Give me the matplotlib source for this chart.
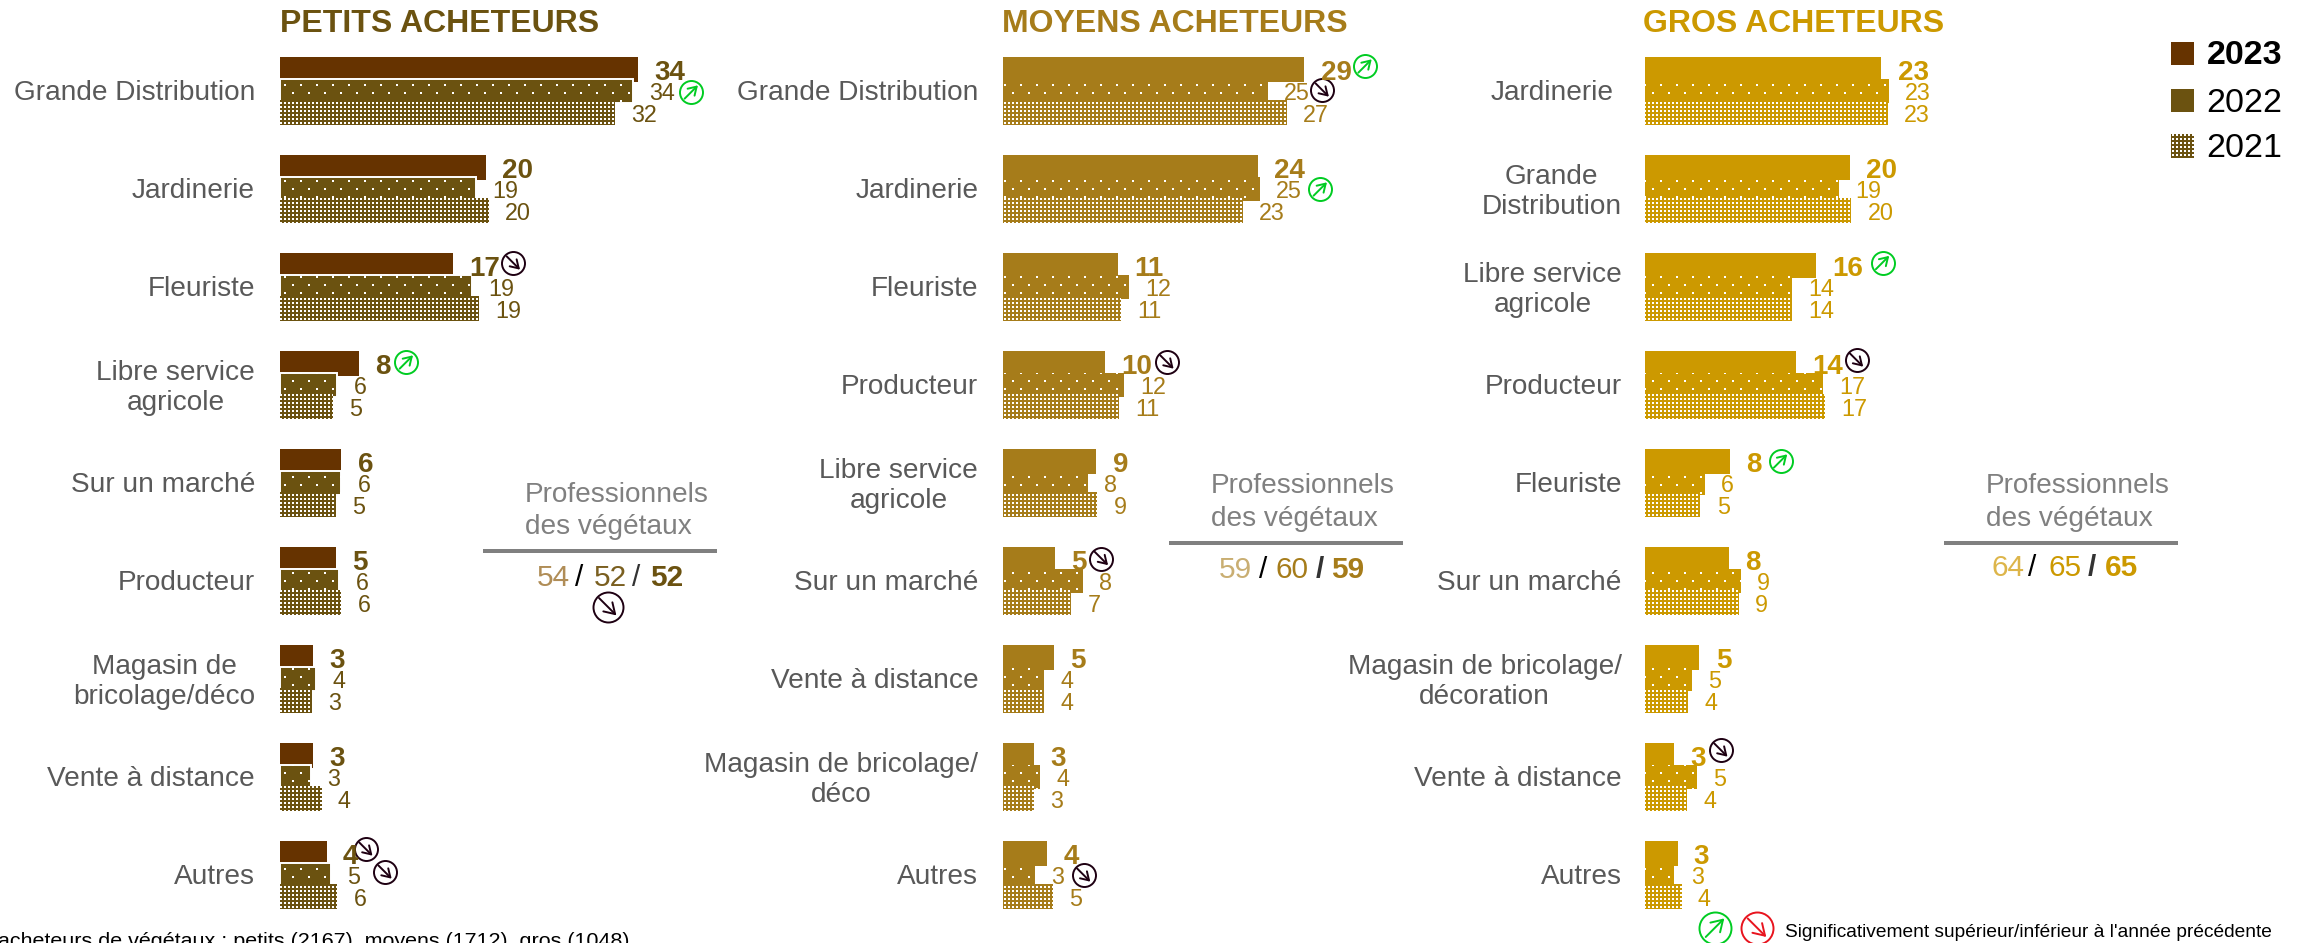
import numpy as np
import matplotlib
matplotlib.use("Agg")
import matplotlib.pyplot as plt
import matplotlib.hatch as mhatch
from matplotlib.lines import Line2D
from matplotlib.patches import Rectangle
from matplotlib.path import Path
from matplotlib.text import Annotation
from matplotlib.transforms import Affine2D

# ---------- data ----------
CATS_PETITS = ["Grande Distribution", "Jardinerie", "Fleuriste", "Libre service\nagricole",
               "Sur un marché", "Producteur", "Magasin de\nbricolage/déco", "Vente à distance", "Autres"]
CATS_MOYENS = ["Grande Distribution", "Jardinerie", "Fleuriste", "Producteur",
               "Libre service\nagricole", "Sur un marché", "Vente à distance",
               "Magasin de bricolage/\ndéco", "Autres"]
CATS_GROS = ["Jardinerie", "Grande\nDistribution", "Libre service\nagricole", "Producteur",
             "Fleuriste", "Sur un marché", "Magasin de bricolage/\ndécoration", "Vente à distance", "Autres"]

PETITS_2023 = [34.4, 19.8, 16.6, 7.6, 5.9, 5.4, 3.2, 3.2, 4.5]
PETITS_2022 = [33.9, 18.8, 18.5, 5.5, 5.9, 5.7, 3.5, 3.0, 4.9]
PETITS_2021 = [32.2, 20.1, 19.1, 5.1, 5.4, 5.9, 3.1, 4.0, 5.5]
MOYENS_2023 = [29.0, 24.5, 11.1, 9.8, 9.0, 5.0, 4.9, 3.0, 4.3]
MOYENS_2022 = [25.5, 24.7, 12.1, 11.7, 8.2, 7.7, 4.0, 3.6, 3.1]
MOYENS_2021 = [27.3, 23.1, 11.4, 11.2, 9.1, 6.6, 4.0, 3.0, 4.8]
GROS_2023 = [22.7, 19.7, 16.4, 14.5, 8.1, 8.0, 5.2, 2.8, 3.1]
GROS_2022 = [23.4, 18.6, 14.1, 17.1, 5.7, 9.2, 4.5, 5.0, 2.8]
GROS_2021 = [23.3, 19.8, 14.1, 17.3, 5.3, 9.0, 4.1, 4.0, 3.5]

PETITS_LAB_2023 = [34, 20, 17, 8, 6, 5, 3, 3, 4]
PETITS_LAB_2022 = [34, 19, 19, 6, 6, 6, 4, 3, 5]
PETITS_LAB_2021 = [32, 20, 19, 5, 5, 6, 3, 4, 6]
MOYENS_LAB_2023 = [29, 24, 11, 10, 9, 5, 5, 3, 4]
MOYENS_LAB_2022 = [25, 25, 12, 12, 8, 8, 4, 4, 3]
MOYENS_LAB_2021 = [27, 23, 11, 11, 9, 7, 4, 3, 5]
GROS_LAB_2023 = [23, 20, 16, 14, 8, 8, 5, 3, 3]
GROS_LAB_2022 = [23, 19, 14, 17, 6, 9, 5, 5, 3]
GROS_LAB_2021 = [23, 20, 14, 17, 5, 9, 4, 4, 4]

# significance marks: (group index, year index, direction)
SIG_PETITS = [(0, 1, "up"), (2, 0, "down"), (3, 0, "up"), (8, 0, "down"), (8, 1, "down")]
SIG_MOYENS = [(0, 0, "up"), (0, 1, "down"), (1, 1, "up"), (3, 0, "down"), (5, 0, "down"), (8, 1, "down")]
SIG_GROS = [(2, 0, "up"), (3, 0, "down"), (4, 0, "up"), (7, 0, "down")]

TOTAL_PETITS = ["54", "52", "52"]
TOTAL_MOYENS = ["59", "60", "59"]
TOTAL_GROS = ["64", "65", "65"]
YEARS = ["2023", "2022", "2021"]

# ---------- layout (pixels) ----------
W, H = 2306, 943
DPI = 96
PT = 72 / DPI
UNIT = 10.4            # px per percent
PITCH = 98.0           # px per group
G0 = 91.0              # centre of the first group
YEAR_OFF = [-21.5, 0.0, 21.5]
BAR_H = [25.0, 24.0, 25.0]
BASE_OFF = [10.0, 9.0, 9.0]
SIG_OFF_PETITS = [(58.7, 1), (60.7, -2.5), (47.3, -1.5), (39, -4.5), (54, -3)]
SIG_OFF_MOYENS = [(60.7, -3.5), (54.3, -1), (60.7, 0), (62.3, -1.5), (46.7, -1), (48.7, 0)]
SIG_OFF_GROS = [(66.7, -3), (60.4, -3.5), (51, -0.5), (46.4, -5.5)]

GREEN = "#00CC22"
DARK = "#1E0012"
RED = "#E8141E"

plt.rcParams["font.family"] = ["Liberation Sans", "DejaVu Sans"]
plt.rcParams["hatch.linewidth"] = 0.0


# square dot textures: "." = sparse staggered dots, ".." = dense grid
class SquareDots(mhatch.HatchPatternBase):
    def __init__(self, hatch, density):
        n = hatch.count(".")
        s = []
        if n == 1:
            for j in range(12):
                for i in range(6):
                    s.append((i * 16 + (8 if j % 2 else 0) + 4, j * 8 + 2))
        elif n >= 2:
            for j in range(24):
                for i in range(24):
                    s.append((i * 4, j * 4))
        self.squares = s
        self.num_vertices = len(s) * 5

    def set_vertices_and_codes(self, vertices, codes):
        for k, (x, y) in enumerate(self.squares):
            box = np.array([[x, y], [x + 2, y], [x + 2, y + 2], [x, y + 2], [x, y]]) / DPI
            vertices[k * 5:k * 5 + 5] = box
            codes[k * 5:k * 5 + 5] = [Path.MOVETO, Path.LINETO, Path.LINETO, Path.LINETO, Path.CLOSEPOLY]


mhatch._hatch_types[:] = [SquareDots]

fig = plt.figure(figsize=(W / DPI, H / DPI), dpi=DPI, facecolor="white")
PX = Affine2D().scale(1, -1).translate(0, H)


def ftext(x, y, s, **kw):
    return fig.text(x, y, s, transform=PX, **kw)


def draw_mark(add_line, annotate, cx_t, kind, size, lw=1.5):
    """cx_t(dx, dy) gives (x, y, transform) of a point at a pixel offset from the centre."""
    color = {"up": GREEN, "down": DARK, "red": RED}[kind]
    x, y, t = cx_t(0, 0)
    add_line(Line2D([x], [y], transform=t, marker="o", ms=size * PT, mfc="none", mec=color,
                    mew=lw * PT * 1.3, ls="none", clip_on=False))
    r = size * 0.29
    if kind == "up":
        a, b = (-r, r), (r, -r)
    else:
        a, b = (-r, -r), (r, r)
    xa, ya, ta = cx_t(*a)
    xb, yb, tb = cx_t(*b)
    annotate("", xy=(xb, yb), xycoords=tb, xytext=(xa, ya), textcoords=ta,
             arrowprops=dict(arrowstyle="->,head_length=0.32,head_width=0.2", color=color,
                             lw=lw * PT * 1.3, shrinkA=0, shrinkB=0, mutation_scale=size * 0.8),
             annotation_clip=False)


PANELS = [
    dict(x0=280.0, title="PETITS ACHETEURS", tx=280, cats=CATS_PETITS,
         vals=[PETITS_2023, PETITS_2022, PETITS_2021],
         labs=[PETITS_LAB_2023, PETITS_LAB_2022, PETITS_LAB_2021],
         cols=["#663300", "#6B5210", "#6B5210"], text="#6B5210",
         sig=SIG_PETITS, sig_off=SIG_OFF_PETITS, edge=True, pad=25, pads={}),
    dict(x0=1002.7, title="MOYENS ACHETEURS", tx=1002, cats=CATS_MOYENS,
         vals=[MOYENS_2023, MOYENS_2022, MOYENS_2021],
         labs=[MOYENS_LAB_2023, MOYENS_LAB_2022, MOYENS_LAB_2021],
         cols=["#A67C1A"] * 3, text="#A67C1A",
         sig=SIG_MOYENS, sig_off=SIG_OFF_MOYENS, edge=False, pad=24.5, pads={}),
    dict(x0=1645.3, title="GROS ACHETEURS", tx=1643, cats=CATS_GROS,
         vals=[GROS_2023, GROS_2022, GROS_2021],
         labs=[GROS_LAB_2023, GROS_LAB_2022, GROS_LAB_2021],
         cols=["#CC9900"] * 3, text="#CC9900",
         sig=SIG_GROS, sig_off=SIG_OFF_GROS, edge=False, pad=23.5, pads={0: 32}),
]

for p in PANELS:
    ax_w = 440.0
    ax = fig.add_axes([p["x0"] / W, 0, ax_w / W, 1])
    ax.patch.set_alpha(0)
    for sp in ax.spines.values():
        sp.set_visible(False)
    ax.set_xticks([])
    n = len(p["cats"])
    groups = np.arange(n)
    hatches = [None, ".", ".."]
    for yi in range(3):
        ys = groups + YEAR_OFF[yi] / PITCH
        has_edge = p["edge"] and yi == 1
        ax.barh(ys, p["vals"][yi], height=BAR_H[yi] / PITCH, color=p["cols"][yi],
                edgecolor="white", linewidth=1.5 * PT * 1.3 if has_edge else 0,
                hatch=hatches[yi], zorder=2 + yi)
        for g in groups:
            ax.annotate(str(p["labs"][yi][g]), xy=(p["vals"][yi][g], ys[g]),
                        xytext=(16.3 * PT, -BASE_OFF[yi] * PT), textcoords="offset points",
                        ha="left", va="baseline", color=p["text"],
                        fontsize=20.8 if yi == 0 else 17.5,
                        fontweight="bold" if yi == 0 else "normal", zorder=6)
    for (g, yi, kind), (dx, dy) in zip(p["sig"], p["sig_off"]):
        v = p["vals"][yi][g]
        yy = g + YEAR_OFF[yi] / PITCH

        def at(ox, oy, v=v, yy=yy, dx=dx, dy=dy):
            return v, yy, ax.transData + Affine2D().translate(dx + ox, -(dy + oy))

        draw_mark(ax.add_line, ax.annotate, at, kind, 23)
    ax.set_yticks(groups - 1.5 / PITCH)
    ax.set_yticklabels(p["cats"], fontsize=21, color="#595959", linespacing=1.2)
    for lab in ax.get_yticklabels():
        lab.set_multialignment("center")
    ax.tick_params(axis="y", length=0, pad=p["pad"] * PT)
    for idx, pad in p["pads"].items():
        ax.yaxis.get_major_ticks()[idx]._apply_params(pad=pad * PT)
    ax.set_xlim(0, ax_w / UNIT)
    ax.set_ylim((H - G0) / PITCH, -G0 / PITCH)
    ftext(p["tx"], 31.7, p["title"], fontsize=24, fontweight="bold", color=p["text"],
          ha="left", va="baseline")

# ---------- side boxes ----------
SIDE = [
    dict(tx=525, y1=491.7, y2=524, rule=(483.3, 717.3), ry=551, ny=575.5,
         nums=TOTAL_PETITS, cols=["#B08D57", "#7A5F20", "#6B5210"], xs=[553, 579, 610, 635.7, 666.5],
         slash2=("#333333", "normal")),
    dict(tx=1211, y1=483.3, y2=516, rule=(1169.3, 1403.4), ry=543.3, ny=567.5,
         nums=TOTAL_MOYENS, cols=["#C9AE72", "#A67C1A", "#A67C1A"], xs=[1235.5, 1263, 1291.7, 1320, 1348],
         slash2=("#333333", "bold")),
    dict(tx=1985.7, y1=483.3, y2=516, rule=(1944, 2178), ry=543.3, ny=565.5,
         nums=TOTAL_GROS, cols=["#DDB54A", "#CC9900", "#CC9900"], xs=[2008, 2032, 2064.6, 2092, 2121.7],
         slash2=("#333333", "bold")),
]
for s in SIDE:
    ftext(s["tx"], s["y1"] + 10, "Professionnels", fontsize=21, color="#808080", ha="left", va="baseline")
    ftext(s["tx"], s["y2"] + 10, "des végétaux", fontsize=21, color="#808080", ha="left", va="baseline")
    fig.add_artist(Line2D(s["rule"], [s["ry"], s["ry"]], transform=PX, color="#808080",
                          lw=4 * PT, solid_capstyle="butt"))
    base = s["ny"] + 10.5
    kw = dict(fontsize=22.3, ha="center", va="baseline")
    ftext(s["xs"][0], base, s["nums"][0], color=s["cols"][0], **kw)
    ftext(s["xs"][1], base, "/", color="#000000", **kw)
    ftext(s["xs"][2], base, s["nums"][1], color=s["cols"][1], **kw)
    ftext(s["xs"][3], base, "/", color=s["slash2"][0], fontweight=s["slash2"][1], **kw)
    ftext(s["xs"][4], base, s["nums"][2], color=s["cols"][2], fontweight="bold", **kw)


def fig_at(cx, cy):
    return lambda ox, oy: (cx + ox, cy + oy, PX)


def fig_annotate(*a, **k):
    return fig.add_artist(Annotation(*a, **k))


draw_mark(fig.add_artist, fig_annotate, fig_at(607.7, 606.7), "down", 30)

# ---------- legend ----------
LEG_Y = [(42, 23), (89, 23), (134, 24)]
LEG_COL = ["#663300", "#6B5210", "#6B5210"]
for i, (yr, (y, h)) in enumerate(zip(YEARS, LEG_Y)):
    fig.add_artist(Rectangle((2171, y), 23, h, transform=PX, facecolor=LEG_COL[i], edgecolor="white",
                             linewidth=0, hatch=".." if i == 2 else None))
    ftext(2206.7, y + h / 2 + 11, yr, fontsize=25.5, color="black", ha="left", va="baseline",
          fontweight="bold" if i == 0 else "normal")

# ---------- footer ----------
ftext(629, 947, "acheteurs de végétaux : petits (2167), moyens (1712), gros (1048)",
      fontsize=16.1, color="black", ha="right", va="baseline")
ftext(1785, 937, "Significativement supérieur/inférieur à l'année précédente",
      fontsize=14.3, color="black", ha="left", va="baseline")
draw_mark(fig.add_artist, fig_annotate, fig_at(1715, 927.7), "up", 32)
draw_mark(fig.add_artist, fig_annotate, fig_at(1757, 927.7), "red", 32)

fig.savefig("out.png", dpi=DPI, facecolor="white")
